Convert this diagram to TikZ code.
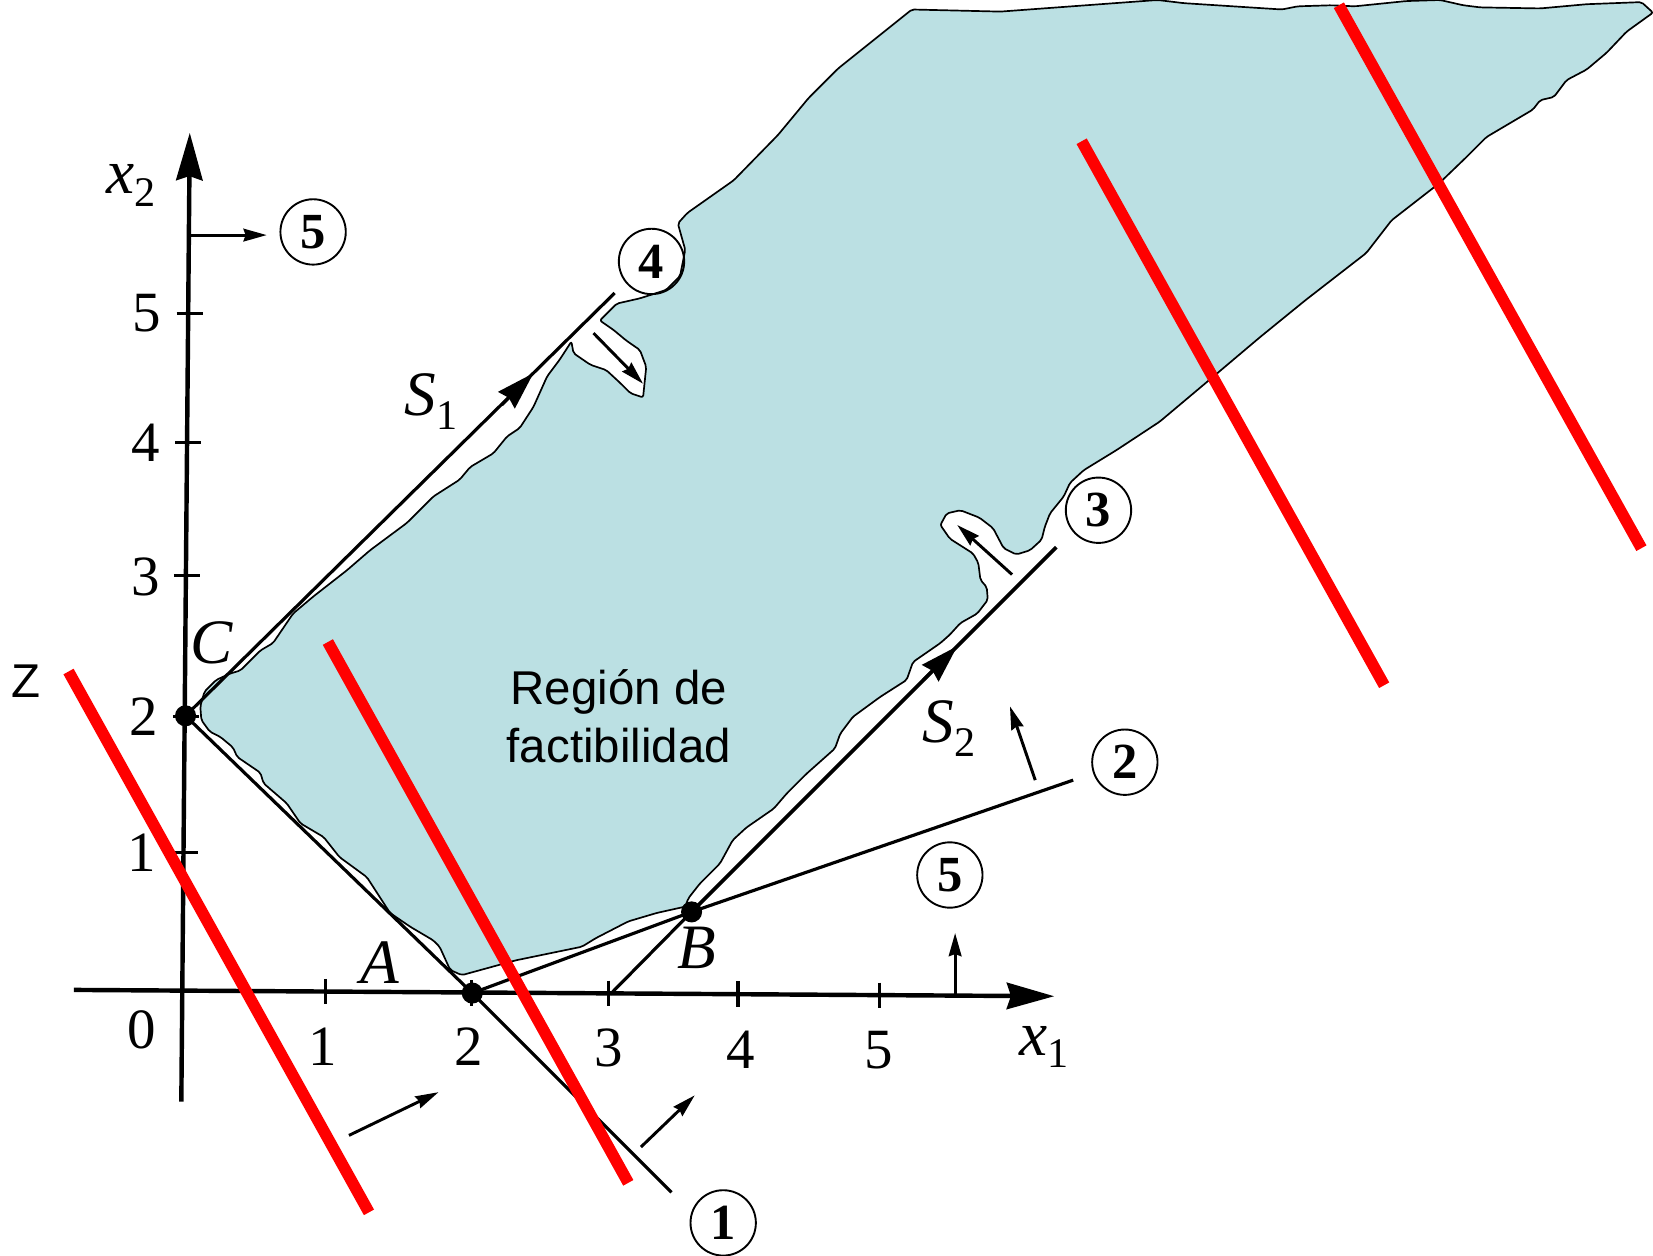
\documentclass[tikz,border=0pt]{standalone}
\usepackage{fontspec}
\setmainfont{Liberation Serif}
\newfontfamily\arialf{Liberation Sans}
\usetikzlibrary{arrows.meta}
\definecolor{regblue}{RGB}{187,224,227}
\begin{document}
\begin{tikzpicture}[x=1pt,y=-1pt,
  axisline/.style={line width=4.2pt,-{Stealth[length=45pt,width=25pt,inset=4pt]}},
  cline/.style={line width=3pt},
  sarrow/.style={line width=2.8pt,-{Stealth[length=22pt,width=12pt,inset=2pt]}},
  bighead/.style={line width=3pt,-{Stealth[length=36pt,width=22pt,inset=3pt]}},
  circnum/.style={circle,draw,line width=1.8pt,minimum size=62pt,inner sep=0pt,
    font=\bfseries\fontsize{48}{48}\selectfont},
  redline/.style={draw=red,line width=11pt,line cap=butt},
  vdot/.style={circle,fill=black,inner sep=0pt,minimum size=20pt},
  ticklab/.style={font=\fontsize{54}{54}\selectfont,inner sep=0pt},
  itlab/.style={font=\itshape\fontsize{60}{60}\selectfont,inner sep=0pt},
  ticks/.style={line width=3pt}
]
\useasboundingbox (0,0) rectangle (1568,1191);

% feasible region
\filldraw[fill=regblue,draw=black,line width=1.6pt,line join=round,rounded corners=2pt]
 (191,683) -- (190,670) -- (194,656) -- (205,645) -- (218,639) -- (228,636) -- (247,617)
 -- (259,610) -- (278,582) -- (297,566) -- (329,541) -- (351,522) -- (386,496) -- (411,471)
 -- (436,455) -- (446,443) -- (468,430) -- (481,414) -- (493,406) -- (506,386) -- (519,357)
 -- (531,341) -- (542,324) -- (544,335) -- (560,346) -- (575,351) -- (588,363) -- (598,373)
 -- (610,377) -- (613,348) -- (607,332) -- (594,323) -- (582,313) -- (569,304) -- (585,288)
 -- (607,283) -- (632,275) -- (645,262) -- (650,237) -- (643,212) -- (652,202) -- (696,171)
 -- (738,128) -- (767,93) -- (795,65) -- (865,9) -- (949,11) -- (1098,0) -- (1123,3)
 -- (1216,9) -- (1231,6) -- (1263,5) -- (1285,6) -- (1334,1) -- (1366,0) -- (1388,5)
 -- (1404,7) -- (1461,8) -- (1505,4) -- (1557,2) -- (1568,12) -- (1543,30) -- (1524,50)
 -- (1505,66) -- (1486,76) -- (1474,92) -- (1461,95) -- (1454,104) -- (1410,130)
 -- (1391,149) -- (1365,174) -- (1320,209) -- (1296,240) -- (1238,285) -- (1195,320)
 -- (1150,358) -- (1100,400) -- (1059,427) -- (1028,446) -- (1015,458) -- (1009,471)
 -- (996,487) -- (991,500) -- (988,512) -- (977,522) -- (964,526) -- (952,520) -- (942,501)
 -- (929,491) -- (911,484) -- (898,487) -- (892,498) -- (901,511) -- (923,525) -- (928,534)
 -- (930,550) -- (936,557) -- (937,569) -- (927,582) -- (911,591) -- (901,602) -- (892,610)
 -- (866,628) -- (860,645) -- (835,661) -- (809,680) -- (797,696) -- (792,710) -- (765,734)
 -- (746,753) -- (734,767) -- (708,785) -- (695,797) -- (683,819) -- (664,838) -- (653,852)
 -- (650,860) -- (623,866) -- (596,874) -- (565,890) -- (552,898) -- (489,911) -- (438,925)
 -- (427,920) -- (417,898) -- (411,892) -- (389,879) -- (370,866) -- (348,832) -- (322,813)
 -- (307,794) -- (285,781) -- (272,762) -- (250,743) -- (247,733) -- (225,718) -- (221,709)
 -- (209,699) -- (199,694) -- cycle;

\node[font=\arialf\fontsize{45}{55}\selectfont,align=center] (reg) at (587,679) {Región de\\factibilidad};

% key points
\coordinate (X1s) at (70,939);
\coordinate (X1e) at (1000,945);
\coordinate (X2s) at (172,1045);
\coordinate (X2e) at (180,126);
\coordinate (Cp) at (176,679);
\coordinate (Ap) at (448,942);
\coordinate (Bp) at (656,865);
\coordinate (E1) at (637,1131);
\coordinate (E2) at (1018,740);
\coordinate (F3) at (579,943);
\coordinate (E3) at (1002,519);
\coordinate (E4) at (583,278);

% axes
\draw[axisline] (X1s) -- (X1e);
\draw[axisline] (X2s) -- (X2e);
% x1 ticks
\foreach \x/\y in {309/940.5,447/942,577/942.3,700/943,834/944}
  \draw[ticks] (\x,\y-12) -- (\x,\y+12);
% x2 ticks
\foreach \x/\y in {174/809,175/680,176/546,177/420,178.5/297}
  \draw[ticks] (\x-11,\y) -- (\x+14,\y);

% tick labels
\node[ticklab] (l0) at (134,977) {0};
\node[ticklab] (lx1) at (306,993) {1};
\node[ticklab] (lx2) at (445,993) {2};
\node[ticklab] (lx3) at (577,994) {3};
\node[ticklab] (lx4) at (703,996) {4};
\node[ticklab] (lx5) at (834,996) {5};
\node[ticklab] (ly1) at (134,809) {1};
\node[ticklab] (ly2) at (136,680) {2};
\node[ticklab] (ly3) at (138,547) {3};
\node[ticklab] (ly4) at (138,420) {4};
\node[ticklab] (ly5) at (139,297) {5};
\node[itlab] (ax1) at (990,993) {x\raisebox{-12pt}{\upshape\fontsize{40}{40}\selectfont 1}};
\node[itlab] (ax2) at (124,176) {x\raisebox{-12pt}{\upshape\fontsize{40}{40}\selectfont 2}};

% constraint lines
\draw[cline] (Cp) -- (Ap) -- (E1);
\draw[cline] (Ap) -- (Bp) -- (E2);
\draw[cline] (F3) -- (Bp);
\draw[line width=3.6pt] (Bp) -- (E3);
\draw[cline] (Cp) -- (E4);

% direction arrows on S1, S2
\coordinate (s1a) at (476,384);
\coordinate (s1b) at (506,354);
\coordinate (s2a) at (876,645);
\coordinate (s2b) at (908,613);
\draw[bighead] (s1a) -- (s1b);
\draw[bighead] (s2a) -- (s2b);

% small feasibility arrows
\coordinate (a1s) at (331,1077); \coordinate (a1e) at (416,1036);
\coordinate (a2s) at (608,1088); \coordinate (a2e) at (659,1039);
\coordinate (a3s) at (982,740);  \coordinate (a3e) at (958,670);
\coordinate (a4s) at (960,545);  \coordinate (a4e) at (908,498);
\coordinate (a5s) at (563,316);  \coordinate (a5e) at (610,364);
\coordinate (a6s) at (179,223);  \coordinate (a6e) at (253,223);
\coordinate (a7s) at (906,944);  \coordinate (a7e) at (906,885);
\draw[sarrow] (a1s) -- (a1e);
\draw[sarrow] (a2s) -- (a2e);
\draw[sarrow] (a3s) -- (a3e);
\draw[sarrow] (a4s) -- (a4e);
\draw[sarrow] (a5s) -- (a5e);
\draw[sarrow] (a6s) -- (a6e);
\draw[sarrow] (a7s) -- (a7e);

% circled constraint numbers
\node[circnum] (n5a) at (297,220) {5};
\node[circnum] (n4) at (618,248) {4};
\node[circnum] (n3) at (1042,484) {3};
\node[circnum] (n2) at (1067,723) {2};
\node[circnum] (n5b) at (901,830) {5};
\node[circnum] (n1) at (686,1160) {1};

% vertices
\node[vdot] (C) at (Cp) {};
\node[vdot] (A) at (Ap) {};
\node[vdot] (B) at (Bp) {};
\node[itlab] (Cl) at (201,610) {C};
\node[itlab] (Al) at (360,913) {A};
\node[itlab] (Bl) at (661,899) {B};
\node[itlab] (S1) at (409,381) {S\raisebox{-14pt}{\upshape\fontsize{40}{40}\selectfont 1}};
\node[itlab] (S2) at (900,691) {S\raisebox{-14pt}{\upshape\fontsize{40}{40}\selectfont 2}};

% objective lines
\coordinate (r1a) at (65,637);   \coordinate (r1b) at (350,1150);
\coordinate (r2a) at (311,609);  \coordinate (r2b) at (596,1122);
\coordinate (r3a) at (1026,134); \coordinate (r3b) at (1313,650);
\coordinate (r4a) at (1270,5);   \coordinate (r4b) at (1557,520);
\draw[redline] (r1a) -- (r1b);
\draw[redline] (r2a) -- (r2b);
\draw[redline] (r3a) -- (r3b);
\draw[redline] (r4a) -- (r4b);
\node[font=\arialf\fontsize{45}{45}\selectfont,inner sep=0pt] (Z) at (25,646) {Z};
\end{tikzpicture}
\end{document}
